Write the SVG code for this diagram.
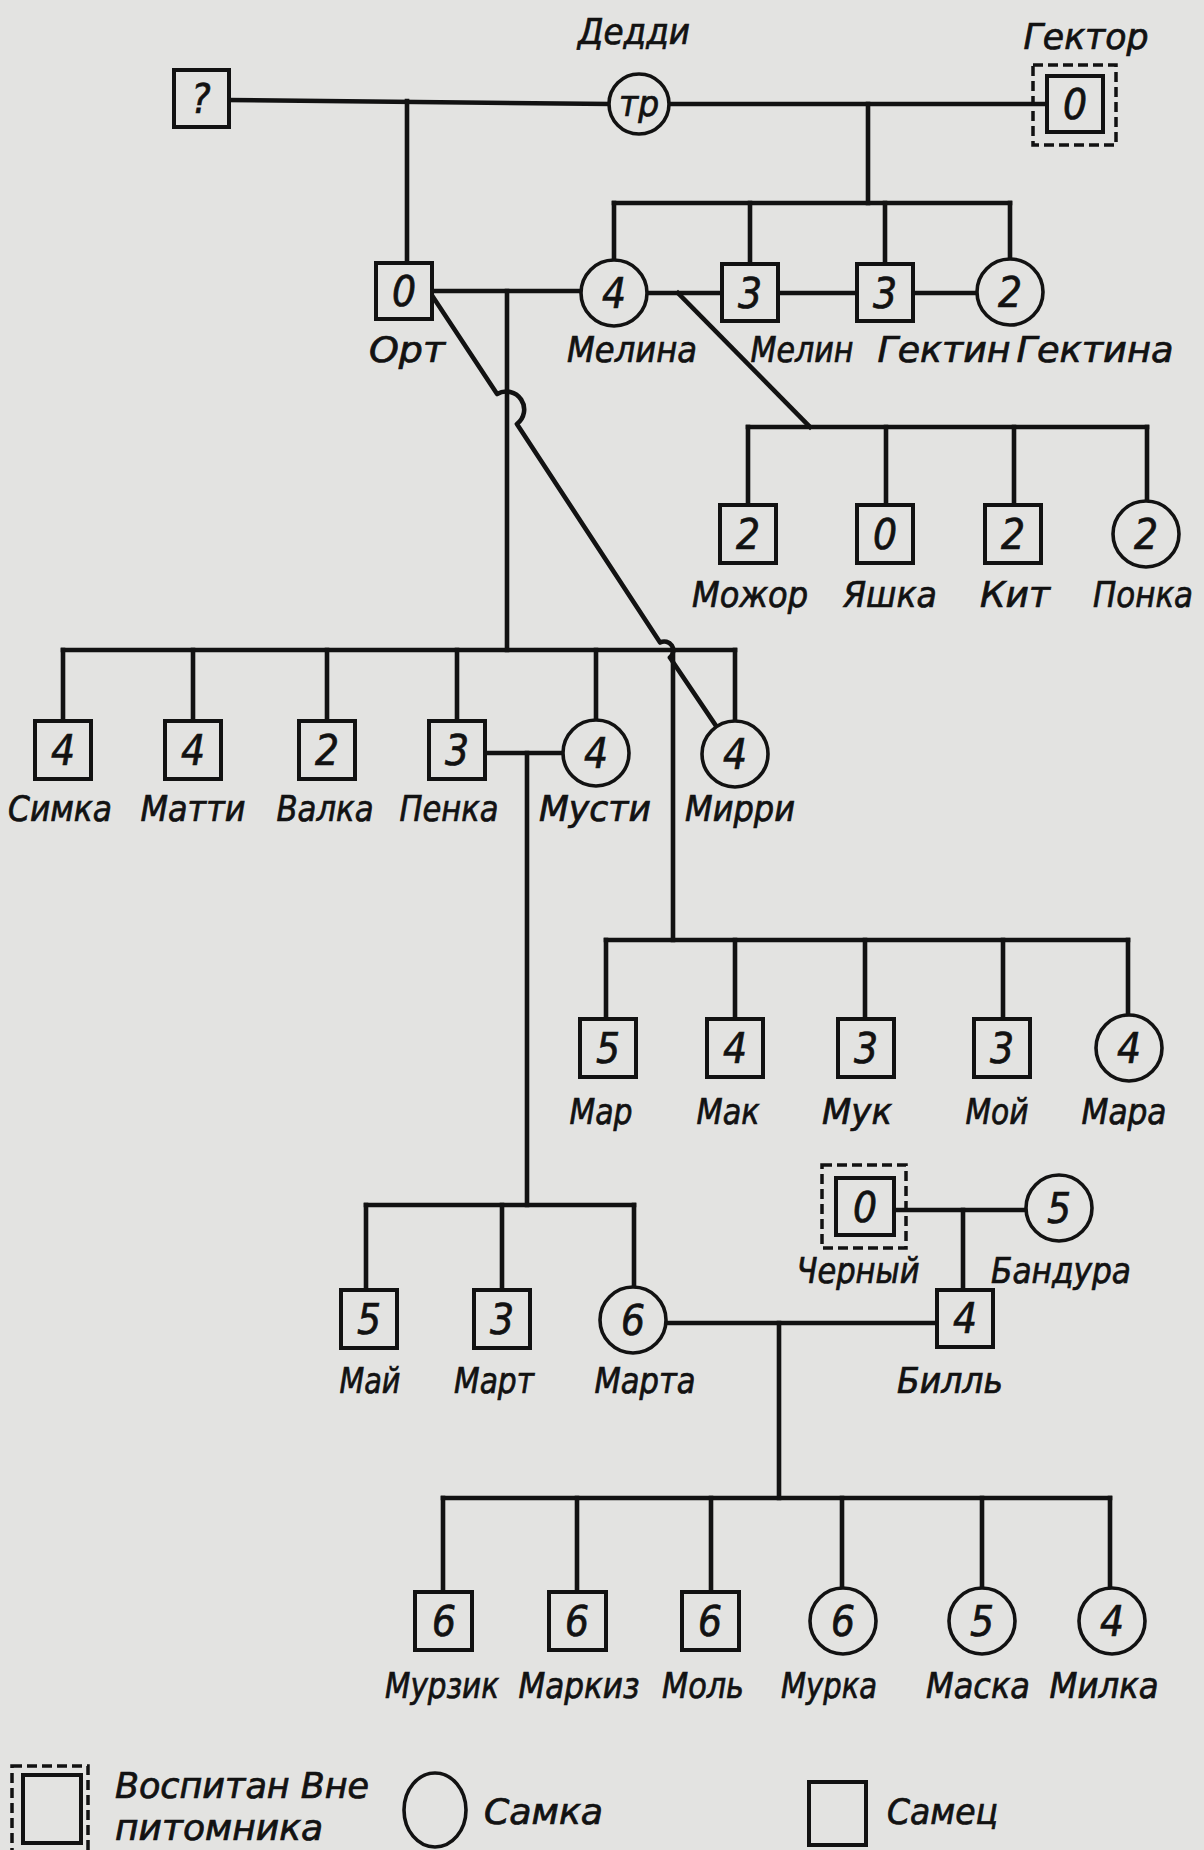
<svg xmlns="http://www.w3.org/2000/svg" width="1204" height="1850" viewBox="0 0 1204 1850">
<defs>
<style>
.bg{fill:#e3e3e1}
.ln{stroke:#121212;stroke-width:4.6;fill:none;stroke-linecap:square;stroke-linejoin:round}
.m{fill:#e3e3e1;stroke:#121212;stroke-width:4}
.f{fill:#e3e3e1;stroke:#121212;stroke-width:3.6}
.d{fill:none;stroke:#121212;stroke-width:3.5;stroke-dasharray:10 5}
text{font-family:"DejaVu Sans Condensed","Liberation Sans Narrow","Liberation Sans",sans-serif;font-style:italic;fill:#121212;stroke:#121212;stroke-width:0.7}
.l{font-size:36px;text-anchor:middle}
.n{font-size:42px;text-anchor:middle}
.lg{font-size:35px;text-anchor:start}
</style>
</defs>
<rect class="bg" x="0" y="0" width="1204" height="1850"/>
<g id="connectors">
<path class="ln" d="M228 100 L609 104"/>
<path class="ln" d="M669 104 L1047 104"/>
<path class="ln" d="M407 101 L407 262"/>
<path class="ln" d="M868 104 L868 203"/>
<path class="ln" d="M614 203 L1010 203"/>
<path class="ln" d="M614 203 L614 260"/>
<path class="ln" d="M750 203 L750 263"/>
<path class="ln" d="M885 203 L885 263"/>
<path class="ln" d="M1010 203 L1010 259"/>
<path class="ln" d="M432 291 L581 291"/>
<path class="ln" d="M507 291 L507 650"/>
<path class="ln" d="M647 293 L722 293"/>
<path class="ln" d="M778 293 L857 293"/>
<path class="ln" d="M913 293 L977 293"/>
<path class="ln" d="M678 293 L810 427"/>
<path class="ln" d="M748 427 L1147 427"/>
<path class="ln" d="M748 427 L748 505"/>
<path class="ln" d="M886 427 L886 505"/>
<path class="ln" d="M1014 427 L1014 505"/>
<path class="ln" d="M1147 427 L1147 501"/>
<path class="ln" d="M433 297 L497.1 394 A18 18 0 0 1 516.9 424 L660.1 642.5 A9 9 0 0 1 669.9 657.5 L735 754"/>
<path class="ln" d="M63 650 L735 650"/>
<path class="ln" d="M63 650 L63 721"/>
<path class="ln" d="M193 650 L193 721"/>
<path class="ln" d="M327 650 L327 721"/>
<path class="ln" d="M457 650 L457 721"/>
<path class="ln" d="M596 650 L596 720"/>
<path class="ln" d="M735 650 L735 721"/>
<path class="ln" d="M485 753 L563 753"/>
<path class="ln" d="M527 753 L527 1205"/>
<path class="ln" d="M673 650 L673 940"/>
<path class="ln" d="M606 940 L1128 940"/>
<path class="ln" d="M606 940 L606 1019"/>
<path class="ln" d="M735 940 L735 1019"/>
<path class="ln" d="M865 940 L865 1019"/>
<path class="ln" d="M1003 940 L1003 1019"/>
<path class="ln" d="M1128 940 L1128 1015"/>
<path class="ln" d="M366 1205 L634 1205"/>
<path class="ln" d="M366 1205 L366 1290"/>
<path class="ln" d="M502 1205 L502 1290"/>
<path class="ln" d="M634 1205 L634 1287"/>
<path class="ln" d="M894 1210 L1026 1210"/>
<path class="ln" d="M963 1210 L963 1290"/>
<path class="ln" d="M666 1323 L937 1323"/>
<path class="ln" d="M779 1323 L779 1498"/>
<path class="ln" d="M443 1498 L1110 1498"/>
<path class="ln" d="M443 1498 L443 1592"/>
<path class="ln" d="M577 1498 L577 1592"/>
<path class="ln" d="M711 1498 L711 1592"/>
<path class="ln" d="M842 1498 L842 1588"/>
<path class="ln" d="M982 1498 L982 1588"/>
<path class="ln" d="M1110 1498 L1110 1588"/>
</g>
<g id="n-unknown"><rect class="m" x="174" y="70" width="55" height="57"/><text class="n" x="201" y="113" style="font-size:40px">?</text></g>
<g id="n-deddi"><circle class="f" cx="639" cy="104" r="30"/><text class="n" x="639" y="116" style="font-size:36px" textLength="40" lengthAdjust="spacingAndGlyphs">тр</text><text class="l" x="634" y="44" textLength="112" lengthAdjust="spacingAndGlyphs">Дедди</text></g>
<g id="n-gektor"><rect class="d" x="1033" y="65" width="83" height="80"/><rect class="m" x="1047" y="76" width="56" height="56"/><text class="n" x="1075" y="119">0</text><text class="l" x="1086" y="49" textLength="125" lengthAdjust="spacingAndGlyphs">Гектор</text></g>
<g id="n-ort"><rect class="m" x="376" y="263" width="56" height="56"/><text class="n" x="404" y="306">0</text><text class="l" x="407" y="362" textLength="76" lengthAdjust="spacingAndGlyphs">Орт</text></g>
<g id="n-melina"><circle class="f" cx="614" cy="293" r="33"/><text class="n" x="614" y="308">4</text><text class="l" x="632" y="362" textLength="130" lengthAdjust="spacingAndGlyphs">Мелина</text></g>
<g id="n-melin"><rect class="m" x="722" y="264" width="56" height="57"/><text class="n" x="750" y="308">3</text><text class="l" x="802" y="362" textLength="103" lengthAdjust="spacingAndGlyphs">Мелин</text></g>
<g id="n-gektin"><rect class="m" x="857" y="264" width="56" height="57"/><text class="n" x="885" y="308">3</text><text class="l" x="944" y="362" textLength="133" lengthAdjust="spacingAndGlyphs">Гектин</text></g>
<g id="n-gektina"><circle class="f" cx="1010" cy="292" r="33"/><text class="n" x="1010" y="307">2</text><text class="l" x="1095" y="362" textLength="157" lengthAdjust="spacingAndGlyphs">Гектина</text></g>
<g id="n-mozhor"><rect class="m" x="720" y="505" width="56" height="58"/><text class="n" x="748" y="549">2</text><text class="l" x="750" y="607" textLength="116" lengthAdjust="spacingAndGlyphs">Можор</text></g>
<g id="n-yashka"><rect class="m" x="857" y="505" width="56" height="58"/><text class="n" x="885" y="549">0</text><text class="l" x="890" y="607" textLength="94" lengthAdjust="spacingAndGlyphs">Яшка</text></g>
<g id="n-kit"><rect class="m" x="985" y="505" width="56" height="58"/><text class="n" x="1013" y="549">2</text><text class="l" x="1015" y="607" textLength="70" lengthAdjust="spacingAndGlyphs">Кит</text></g>
<g id="n-ponka"><circle class="f" cx="1146" cy="534" r="33"/><text class="n" x="1146" y="549">2</text><text class="l" x="1143" y="607" textLength="100" lengthAdjust="spacingAndGlyphs">Понка</text></g>
<g id="n-simka"><rect class="m" x="35" y="721" width="56" height="58"/><text class="n" x="63" y="765">4</text><text class="l" x="60" y="821" textLength="104" lengthAdjust="spacingAndGlyphs">Симка</text></g>
<g id="n-matti"><rect class="m" x="165" y="721" width="56" height="58"/><text class="n" x="193" y="765">4</text><text class="l" x="193" y="821" textLength="105" lengthAdjust="spacingAndGlyphs">Матти</text></g>
<g id="n-valka"><rect class="m" x="299" y="721" width="56" height="58"/><text class="n" x="327" y="765">2</text><text class="l" x="325" y="821" textLength="97" lengthAdjust="spacingAndGlyphs">Валка</text></g>
<g id="n-penka"><rect class="m" x="429" y="721" width="56" height="58"/><text class="n" x="457" y="765">3</text><text class="l" x="449" y="821" textLength="99" lengthAdjust="spacingAndGlyphs">Пенка</text></g>
<g id="n-musti"><circle class="f" cx="596" cy="753" r="33"/><text class="n" x="596" y="768">4</text><text class="l" x="595" y="821" textLength="112" lengthAdjust="spacingAndGlyphs">Мусти</text></g>
<g id="n-mirri"><circle class="f" cx="735" cy="754" r="33"/><text class="n" x="735" y="769">4</text><text class="l" x="740" y="821" textLength="110" lengthAdjust="spacingAndGlyphs">Мирри</text></g>
<g id="n-mar"><rect class="m" x="580" y="1019" width="56" height="58"/><text class="n" x="608" y="1063">5</text><text class="l" x="601" y="1124" textLength="63" lengthAdjust="spacingAndGlyphs">Мар</text></g>
<g id="n-mak"><rect class="m" x="707" y="1019" width="56" height="58"/><text class="n" x="735" y="1063">4</text><text class="l" x="728" y="1124" textLength="63" lengthAdjust="spacingAndGlyphs">Мак</text></g>
<g id="n-muk"><rect class="m" x="838" y="1019" width="56" height="58"/><text class="n" x="866" y="1063">3</text><text class="l" x="857" y="1124" textLength="70" lengthAdjust="spacingAndGlyphs">Мук</text></g>
<g id="n-moi"><rect class="m" x="974" y="1019" width="56" height="58"/><text class="n" x="1002" y="1063">3</text><text class="l" x="997" y="1124" textLength="63" lengthAdjust="spacingAndGlyphs">Мой</text></g>
<g id="n-mara"><circle class="f" cx="1129" cy="1048" r="33"/><text class="n" x="1129" y="1063">4</text><text class="l" x="1124" y="1124" textLength="85" lengthAdjust="spacingAndGlyphs">Мара</text></g>
<g id="n-cherny"><rect class="d" x="822" y="1165" width="84" height="83"/><rect class="m" x="836" y="1178" width="58" height="57"/><text class="n" x="865" y="1222">0</text><text class="l" x="858" y="1283" textLength="123" lengthAdjust="spacingAndGlyphs">Черный</text></g>
<g id="n-bandura"><circle class="f" cx="1059" cy="1208" r="33"/><text class="n" x="1059" y="1223">5</text><text class="l" x="1061" y="1283" textLength="140" lengthAdjust="spacingAndGlyphs">Бандура</text></g>
<g id="n-mai"><rect class="m" x="341" y="1290" width="56" height="58"/><text class="n" x="369" y="1334">5</text><text class="l" x="370" y="1393" textLength="61" lengthAdjust="spacingAndGlyphs">Май</text></g>
<g id="n-mart"><rect class="m" x="474" y="1290" width="56" height="58"/><text class="n" x="502" y="1334">3</text><text class="l" x="494" y="1393" textLength="80" lengthAdjust="spacingAndGlyphs">Март</text></g>
<g id="n-marta"><circle class="f" cx="633" cy="1320" r="33"/><text class="n" x="633" y="1335">6</text><text class="l" x="645" y="1393" textLength="101" lengthAdjust="spacingAndGlyphs">Марта</text></g>
<g id="n-bill"><rect class="m" x="937" y="1290" width="56" height="57"/><text class="n" x="965" y="1333">4</text><text class="l" x="950" y="1393" textLength="106" lengthAdjust="spacingAndGlyphs">Билль</text></g>
<g id="n-murzik"><rect class="m" x="415" y="1592" width="57" height="58"/><text class="n" x="444" y="1636">6</text><text class="l" x="442" y="1698" textLength="114" lengthAdjust="spacingAndGlyphs">Мурзик</text></g>
<g id="n-markiz"><rect class="m" x="549" y="1592" width="57" height="58"/><text class="n" x="577" y="1636">6</text><text class="l" x="579" y="1698" textLength="121" lengthAdjust="spacingAndGlyphs">Маркиз</text></g>
<g id="n-mol"><rect class="m" x="682" y="1592" width="57" height="58"/><text class="n" x="710" y="1636">6</text><text class="l" x="703" y="1698" textLength="82" lengthAdjust="spacingAndGlyphs">Моль</text></g>
<g id="n-murka"><circle class="f" cx="843" cy="1621" r="33"/><text class="n" x="843" y="1636">6</text><text class="l" x="829" y="1698" textLength="96" lengthAdjust="spacingAndGlyphs">Мурка</text></g>
<g id="n-maska"><circle class="f" cx="982" cy="1621" r="33"/><text class="n" x="982" y="1636">5</text><text class="l" x="978" y="1698" textLength="104" lengthAdjust="spacingAndGlyphs">Маска</text></g>
<g id="n-milka"><circle class="f" cx="1112" cy="1621" r="33"/><text class="n" x="1112" y="1636">4</text><text class="l" x="1104" y="1698" textLength="109" lengthAdjust="spacingAndGlyphs">Милка</text></g>
<g id="legend">
<rect class="d" x="12" y="1766" width="76" height="90"/>
<rect class="m" x="23" y="1775" width="58" height="68"/>
<text class="lg" x="115" y="1798" textLength="254" lengthAdjust="spacingAndGlyphs">Воспитан Вне</text>
<text class="lg" x="115" y="1840" textLength="208" lengthAdjust="spacingAndGlyphs">питомника</text>
<ellipse class="f" cx="435" cy="1810" rx="31" ry="37"/>
<text class="lg" x="484" y="1824" textLength="119" lengthAdjust="spacingAndGlyphs">Самка</text>
<rect class="m" x="809" y="1782" width="57" height="63"/>
<text class="lg" x="887" y="1824" textLength="111" lengthAdjust="spacingAndGlyphs">Самец</text>
</g>
</svg>
